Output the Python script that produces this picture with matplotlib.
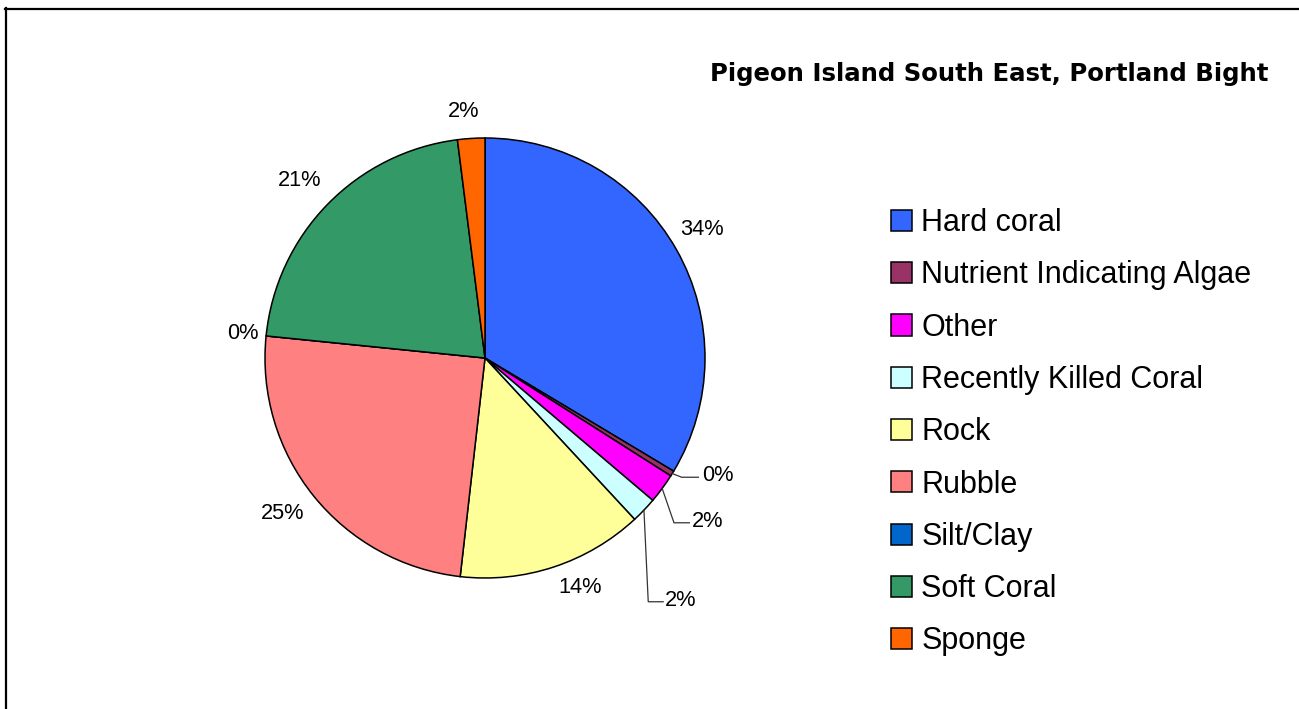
import matplotlib
matplotlib.use("Agg")
import matplotlib.pyplot as plt
import numpy as np

plt.rcParams['font.family'] = ['Liberation Sans', 'DejaVu Sans']

# ---- data ----
categories = ["Hard coral", "Nutrient Indicating Algae", "Other", "Recently Killed Coral",
              "Rock", "Rubble", "Silt/Clay", "Soft Coral", "Sponge"]
values = [33.6, 0.4, 2.2, 1.9, 13.7, 24.8, 0.0, 21.4, 2.0]
colors = ["#3366FF", "#993366", "#FF00FF", "#CCFFFF", "#FFFF99",
          "#FF8080", "#0066CC", "#339966", "#FF6600"]
title = "Pigeon Island South East, Portland Bight"

# ---- layout (label centres in pie-radius units) ----
label_pos = [(0.985, 0.584), (1.059, -0.535), (1.011, -0.744), (0.891, -1.10),
             (0.432, -1.041), (-0.920, -0.706), (-1.102, 0.112), (-0.842, 0.809),
             (-0.096, 1.12)]
# leader lines: (bend, end) for slices that have them
leaders = {1: ((0.894, -0.542), (0.970, -0.542)),
           2: ((0.859, -0.749), (0.929, -0.749)),
           3: ((0.742, -1.108), (0.810, -1.108))}

W, H = 1299, 709
fig = plt.figure(figsize=(W / 100, H / 100), dpi=100)
cx, cy, R = 485, 358, 220
ax = fig.add_axes([(cx - R) / W, (H - cy - R) / H, 2 * R / W, 2 * R / H])
ax.axis('off')

wedges, _ = ax.pie(values, colors=colors, startangle=90, counterclock=False,
                   radius=1.0, wedgeprops=dict(edgecolor='black', linewidth=1.1),
                   normalize=True)
ax.set_xlim(-1, 1)
ax.set_ylim(-1, 1)
ax.set_aspect('auto')

total = sum(values)
for i, (w, v) in enumerate(zip(wedges, values)):
    pct = "%d%%" % round(v / total * 100)
    lx, ly = label_pos[i]
    ax.text(lx, ly, pct, ha='center', va='center', fontsize=15.7, color='black')
    if i in leaders:
        mid = np.deg2rad((w.theta1 + w.theta2) / 2)
        sx, sy = np.cos(mid), np.sin(mid)
        (bx, by), (ex, ey) = leaders[i]
        ax.plot([sx, bx, ex], [sy, by, ey], color='#333333', lw=0.9,
                solid_joinstyle='miter', clip_on=False)

leg = fig.legend(wedges, categories, loc='upper left',
                 bbox_to_anchor=(891 / W, 1 - 208 / H), frameon=False,
                 fontsize=22, handlelength=0.69, handleheight=0.69,
                 handletextpad=0.3, labelspacing=0.73, borderpad=0,
                 borderaxespad=0)

fig.text(1268 / W, 1 - 81 / H, title, ha='right', va='baseline',
         fontsize=17.6, fontweight='bold', family='DejaVu Sans')

# chart border (top and left visible)
fig.add_artist(plt.Line2D([5 / W, 1], [1 - 9 / H, 1 - 9 / H], color='black',
                          lw=1.6, transform=fig.transFigure))
fig.add_artist(plt.Line2D([6 / W, 6 / W], [0, 1 - 8 / H], color='black',
                          lw=1.6, transform=fig.transFigure))

fig.savefig("out.png", dpi=100)
